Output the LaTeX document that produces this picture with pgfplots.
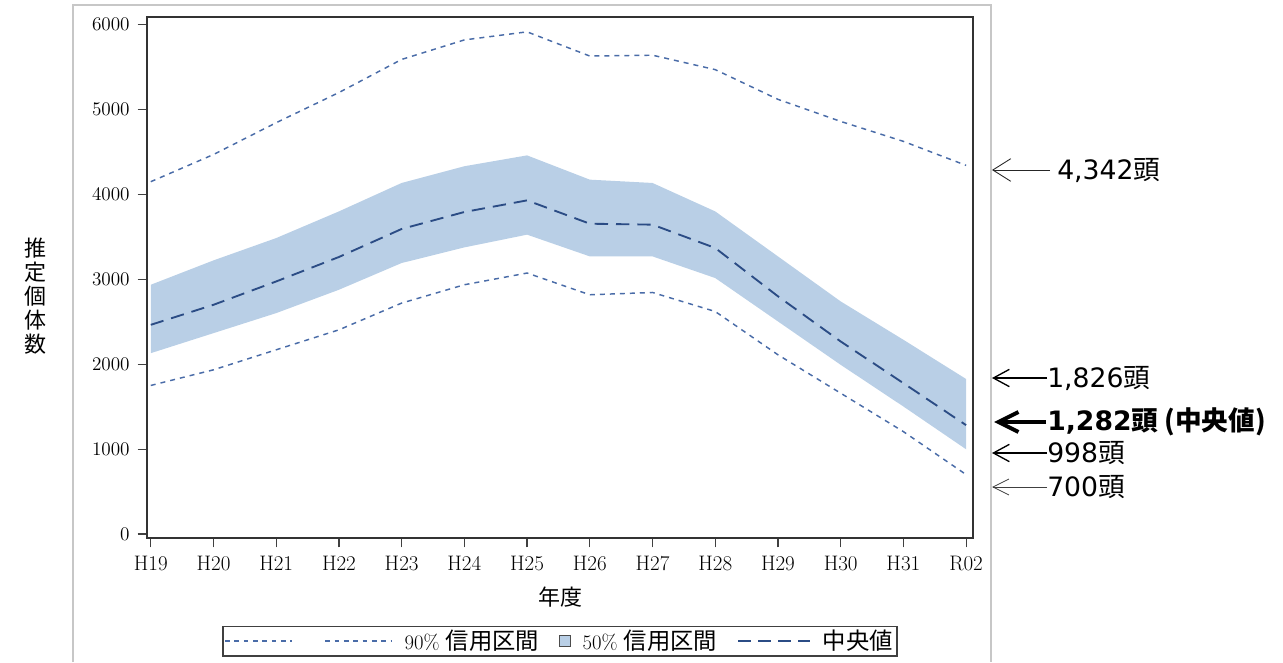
\documentclass[border=0pt]{standalone}
\usepackage{pgfplots}
\pgfplotsset{compat=1.18}
\usepgfplotslibrary{fillbetween}
\usetikzlibrary{arrows.meta}
\usepackage{fontspec}
\newfontfamily\cjk{Noto Sans CJK JP}
\newfontfamily\dv{DejaVu Sans}
\definecolor{bandc}{HTML}{B9CFE6}
\definecolor{ninec}{HTML}{4A6CA8}
\definecolor{medc}{HTML}{2B4C85}
\pgfplotsset{
 leg90/.style={legend image code/.code={\draw[ninec,line width=1.1pt,dash pattern=on 3.5pt off 3.5pt] (0pt,0pt) -- (50pt,0pt);}},
 legmed/.style={legend image code/.code={\draw[medc,line width=1.4pt,dash pattern=on 10pt off 5pt] (0pt,0pt) -- (54pt,0pt);}},
 legband/.style={legend image code/.code={\draw[black!70,fill=bandc,line width=0.6pt] (0pt,-4pt) rectangle (8pt,4pt);}},
}
\begin{document}
\begin{tikzpicture}
\begin{axis}[
  at={(110.25pt,93pt)}, anchor=south west,
  scale only axis, width=619.5pt, height=390.75pt,
  xmin=-0.06, xmax=13.11, ymin=-47, ymax=6090,
  xtick={0,...,13},
  xticklabels={H19,H20,H21,H22,H23,H24,H25,H26,H27,H28,H29,H30,H31,R02},
  ytick={0,1000,...,6000},
  tick pos=left, tick align=outside, major tick length=7pt,
  tick style={black!75, line width=0.9pt},
  ticklabel style={font=\fontsize{15.75}{18}\selectfont},
  yticklabel style={/pgf/number format/set thousands separator={}, xshift=-2.5pt},
  xticklabel style={yshift=-3pt},
  axis line style={black!80, line width=1.1pt},
  xlabel={年度},
  xlabel style={font=\cjk\fontsize{16.5}{18}\selectfont, at={(axis description cs:0.5,-0.113)}, anchor=center},
  legend style={at={(axis description cs:0.5,-0.198)}, anchor=center, draw=black!75, line width=0.9pt,
    font=\fontsize{15.5}{18}\selectfont, inner sep=1pt,
    /tikz/every odd column/.append style={column sep=7pt},
    /tikz/every even column/.append style={column sep=13pt}},
  legend columns=-1,
]
\addplot[name path=u50, draw=none, forget plot] coordinates {
(0,2936) (1,3223) (2,3486) (3,3800) (4,4135) (5,4332) (6,4460) (7,4174) (8,4135) (9,3800) (10,3270) (11,2740) (12,2288) (13,1826)};
\addplot[name path=l50, draw=none, forget plot] coordinates {
(0,2130) (1,2366) (2,2602) (3,2877) (4,3192) (5,3376) (6,3526) (7,3270) (8,3270) (9,3015) (10,2504) (11,1993) (12,1502) (13,998)};
\addplot[bandc, forget plot] fill between[of=u50 and l50];
\addplot[ninec, line width=1.1pt, dash pattern=on 3.75pt off 3.75pt, forget plot] coordinates {
(0,4150) (1,4470) (2,4845) (3,5200) (4,5590) (5,5820) (6,5915) (7,5630) (8,5640) (9,5470) (10,5120) (11,4860) (12,4625) (13,4342)};
\addplot[ninec, line width=1.1pt, dash pattern=on 3.75pt off 3.75pt, forget plot] coordinates {
(0,1750) (1,1934) (2,2170) (3,2405) (4,2720) (5,2936) (6,3074) (7,2818) (8,2845) (9,2621) (10,2111) (11,1659) (12,1206) (13,700)};
\addplot[medc, line width=1.4pt, dash pattern=on 10pt off 6pt, forget plot] coordinates {
(0,2464) (1,2700) (2,2975) (3,3263) (4,3593) (5,3793) (6,3930) (7,3655) (8,3644) (9,3369) (10,2800) (11,2268) (12,1777) (13,1282)};
\addlegendimage{leg90}
\addlegendentry{}
\addlegendimage{leg90}
\addlegendentry{90\% {\cjk\fontsize{17.5}{18}\selectfont 信用区間}}
\addlegendimage{legband}
\addlegendentry{50\% {\cjk\fontsize{17.5}{18}\selectfont 信用区間}}
\addlegendimage{legmed}
\addlegendentry{{\cjk\fontsize{17.5}{18}\selectfont 中央値}}
\end{axis}
\begin{scope}[x=0.75pt,y=0.75pt]
\draw[black!22, line width=0.9pt] (73,0) -- (73,657) -- (991,657) -- (991,0);
\node[font=\cjk\fontsize{16.5}{18}\selectfont, align=center] at (35,366) {推\\定\\個\\体\\数};
\begin{scope}[font=\dv\fontsize{20}{22}\selectfont]
\draw[black!85, line width=0.65pt, -{Straight Barb[length=13.5pt,width=17pt]}] (1050,492) -- (992,492);
\node[anchor=west, inner sep=0] at (1057,492) {4,342{\cjk 頭}};
\draw[black, line width=1pt, -{Straight Barb[length=12pt,width=13pt]}] (1047,284) -- (992,284);
\node[anchor=west, inner sep=0] at (1047,284) {1,826{\cjk 頭}};
\draw[black, line width=3pt, -{Straight Barb[length=15pt,width=15pt]}] (1046,240) -- (994,240);
\node[anchor=west, inner sep=0] at (1047,240) {\bfseries 1,282{\cjk\bfseries 頭 (中央値)}};
\draw[black, line width=1pt, -{Straight Barb[length=12pt,width=13pt]}] (1047,209) -- (992,209);
\node[anchor=west, inner sep=0] at (1047,209) {998{\cjk 頭}};
\draw[black!75, line width=0.6pt, -{Straight Barb[length=12pt,width=12pt]}] (1047,175) -- (992,175);
\node[anchor=west, inner sep=0] at (1047,175) {700{\cjk 頭}};
\end{scope}
\pgfresetboundingbox
\path[use as bounding box] (0,0) rectangle (1283,662);
\end{scope}
\end{tikzpicture}
\end{document}
